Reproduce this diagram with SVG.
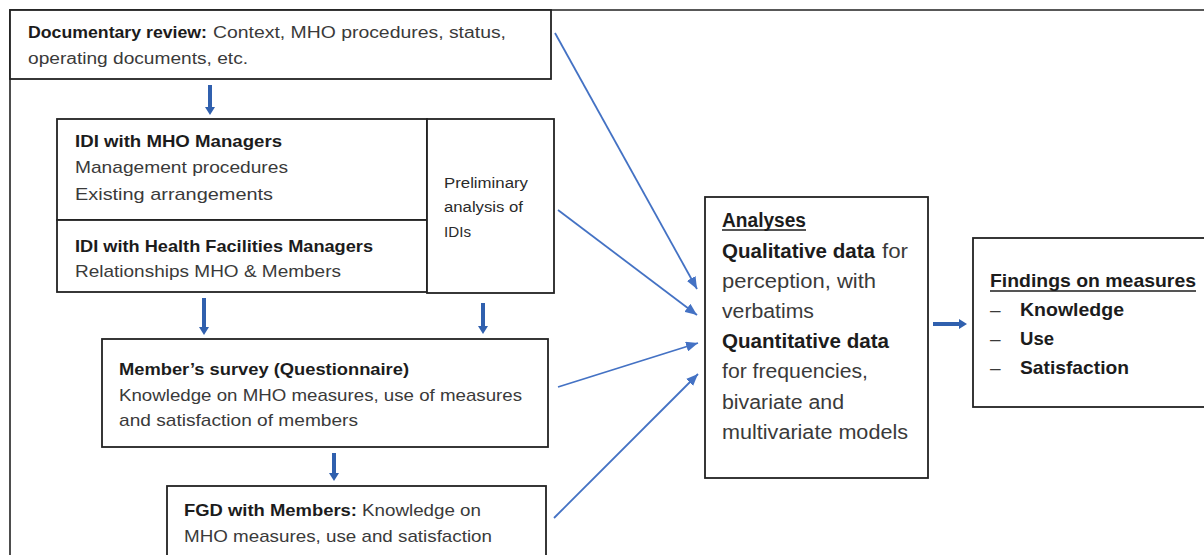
<svg xmlns="http://www.w3.org/2000/svg" width="1204" height="555" viewBox="0 0 1204 555">
<defs>
<style>
.box{fill:#fff;stroke:#222;stroke-width:1.8}
.frame{fill:none;stroke:#222;stroke-width:1.6}
text{font-family:"Liberation Sans",Arial,sans-serif;fill:#3a3a3a}
.b{font-weight:bold;fill:#1c1c1c}
.f16{font-size:16px}
.f17{font-size:17px}
.f14{font-size:14px}
.f20{font-size:20px}
.f19{font-size:19px}
.thin{stroke:#4472C4;stroke-width:1.8;fill:none;marker-end:url(#ah)}
.blk{fill:#3060AE}
.ul{stroke:#1c1c1c;stroke-width:1.3}
</style>
<marker id="ah" viewBox="0 0 12 10" refX="12" refY="5" markerWidth="12" markerHeight="10" markerUnits="userSpaceOnUse" orient="auto">
<path d="M0,0 L12,5 L0,10 z" fill="#4472C4"/>
</marker>
</defs>
<rect width="1204" height="555" fill="#fff"/>
<path class="frame" d="M10,555 L10,10 L1204,10"/>

<g id="doc">
<rect class="box" x="10" y="10" width="541" height="69"/>
<text class="b f16" x="28" y="38" textLength="179" lengthAdjust="spacingAndGlyphs">Documentary review:</text>
<text class="f16" x="213" y="38" textLength="293" lengthAdjust="spacingAndGlyphs">Context, MHO procedures, status,</text>
<text class="f16" x="28" y="64" textLength="220" lengthAdjust="spacingAndGlyphs">operating documents, etc.</text>
</g>

<g id="idi-mho">
<rect class="box" x="57" y="119" width="370" height="101"/>
<text class="b f17" x="75" y="147" textLength="207" lengthAdjust="spacingAndGlyphs">IDI with MHO Managers</text>
<text class="f17" x="75" y="173" textLength="213" lengthAdjust="spacingAndGlyphs">Management procedures</text>
<text class="f17" x="75" y="200" textLength="198" lengthAdjust="spacingAndGlyphs">Existing arrangements</text>
</g>

<g id="idi-hf">
<rect class="box" x="57" y="220" width="370" height="72"/>
<text class="b f17" x="75" y="252" textLength="298" lengthAdjust="spacingAndGlyphs">IDI with Health Facilities Managers</text>
<text class="f17" x="75" y="277" textLength="266" lengthAdjust="spacingAndGlyphs">Relationships MHO &amp; Members</text>
</g>

<g id="prelim">
<rect class="box" x="427" y="119" width="127" height="174"/>
<text class="f14" x="444" y="188" textLength="84" lengthAdjust="spacingAndGlyphs" style="fill:#2a2a2a">Preliminary</text>
<text class="f14" x="444" y="212" textLength="79" lengthAdjust="spacingAndGlyphs" style="fill:#2a2a2a">analysis of</text>
<text class="f14" x="444" y="237" textLength="27" lengthAdjust="spacingAndGlyphs" style="fill:#2a2a2a">IDIs</text>
</g>

<g id="survey">
<rect class="box" x="102" y="339" width="446" height="108"/>
<text class="b f17" x="119" y="375" textLength="290" lengthAdjust="spacingAndGlyphs">Member’s survey (Questionnaire)</text>
<text class="f17" x="119" y="401" textLength="403" lengthAdjust="spacingAndGlyphs">Knowledge on MHO measures, use of measures</text>
<text class="f17" x="119" y="426" textLength="239" lengthAdjust="spacingAndGlyphs">and satisfaction of members</text>
</g>

<g id="fgd">
<rect class="box" x="167" y="486" width="379" height="80"/>
<text class="b f17" x="184" y="516" textLength="173" lengthAdjust="spacingAndGlyphs">FGD with Members:</text>
<text class="f17" x="362" y="516" textLength="119" lengthAdjust="spacingAndGlyphs">Knowledge on</text>
<text class="f17" x="184" y="542" textLength="308" lengthAdjust="spacingAndGlyphs">MHO measures, use and satisfaction</text>
</g>

<g id="analyses">
<rect class="box" x="705" y="197" width="223" height="281"/>
<text class="b f20" x="722" y="227" textLength="84" lengthAdjust="spacingAndGlyphs">Analyses</text>
<line class="ul" x1="722" y1="230" x2="806" y2="230"/>
<text class="b f20" x="722" y="258" textLength="153" lengthAdjust="spacingAndGlyphs">Qualitative data</text>
<text class="f20" x="882" y="258" textLength="26" lengthAdjust="spacingAndGlyphs">for</text>
<text class="f20" x="722" y="288" textLength="154" lengthAdjust="spacingAndGlyphs">perception, with</text>
<text class="f20" x="722" y="318" textLength="92" lengthAdjust="spacingAndGlyphs">verbatims</text>
<text class="b f20" x="722" y="348" textLength="167" lengthAdjust="spacingAndGlyphs">Quantitative data</text>
<text class="f20" x="722" y="378" textLength="146" lengthAdjust="spacingAndGlyphs">for frequencies,</text>
<text class="f20" x="722" y="409" textLength="122" lengthAdjust="spacingAndGlyphs">bivariate and</text>
<text class="f20" x="722" y="439" textLength="186" lengthAdjust="spacingAndGlyphs">multivariate models</text>
</g>

<g id="findings">
<rect class="box" x="973" y="238" width="240" height="169"/>
<text class="b f19" x="990" y="287" textLength="206" lengthAdjust="spacingAndGlyphs">Findings on measures</text>
<line class="ul" x1="990" y1="291" x2="1196" y2="291"/>
<text class="f19" x="990" y="316">–</text>
<text class="b f19" x="1020" y="316" textLength="104" lengthAdjust="spacingAndGlyphs">Knowledge</text>
<text class="f19" x="990" y="345">–</text>
<text class="b f19" x="1020" y="345" textLength="34" lengthAdjust="spacingAndGlyphs">Use</text>
<text class="f19" x="990" y="374">–</text>
<text class="b f19" x="1020" y="374" textLength="109" lengthAdjust="spacingAndGlyphs">Satisfaction</text>
</g>

<g id="connectors">
<polygon class="blk" points="208,85 212,85 212,107 215,107 210,115 205,107 208,107"/>
<polygon class="blk" points="202,298 206,298 206,327 209,327 204,335 199,327 202,327"/>
<polygon class="blk" points="481,303 485,303 485,326 488,326 483,334 478,326 481,326"/>
<polygon class="blk" points="332,453 336,453 336,473 339,473 334,481 329,473 332,473"/>
<polygon class="blk" points="933,322 959,322 959,319 967,324 959,329 959,326 933,326"/>
<line class="thin" x1="555" y1="33" x2="697" y2="289"/>
<line class="thin" x1="558" y1="210" x2="697" y2="315"/>
<line class="thin" x1="558" y1="387" x2="698" y2="343"/>
<line class="thin" x1="554" y1="518" x2="698" y2="374"/>
</g>
</svg>
